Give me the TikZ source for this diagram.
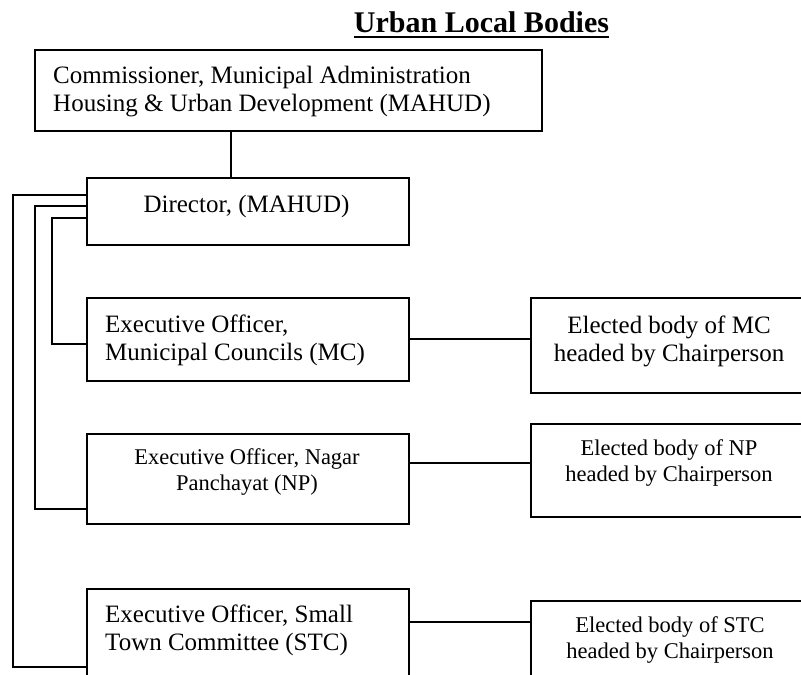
\documentclass[tikz,border=0pt]{standalone}
\usepackage{fontspec}
\setmainfont{Liberation Serif}
\begin{document}
\begin{tikzpicture}[x=1pt,y=-1pt,
  box/.style={draw,line width=1.8pt,rectangle,inner sep=0pt,anchor=north west},
  big/.style={font=\fontsize{25}{28}\selectfont,inner sep=0pt},
  small/.style={font=\fontsize{22.5}{26}\selectfont,inner sep=0pt},
  conn/.style={line width=1.8pt}]
\useasboundingbox (0,0) rectangle (801,675);
\clip (0,0) rectangle (801,675);
% title
\node[inner sep=0pt,anchor=base,font=\fontsize{30}{34}\selectfont\bfseries] (title) at (481.5,32) {Urban Local Bodies};
\draw[line width=2.2pt] ([yshift=-5pt]title.base west) -- ([yshift=-5pt]title.base east);
% boxes
\node[box,minimum width=507pt,minimum height=81pt] (com) at (34,49) {};
\node[box,minimum width=322pt,minimum height=67pt] (dir) at (86,177) {};
\node[box,minimum width=322pt,minimum height=83pt] (mc) at (86,297) {};
\node[box,minimum width=322pt,minimum height=90pt] (np) at (86,433) {};
\node[box,minimum width=322pt,minimum height=112pt] (stc) at (86,588) {};
\node[box,minimum width=274pt,minimum height=95pt] (emc) at (530,297) {};
\node[box,minimum width=274pt,minimum height=93pt] (enp) at (530,423) {};
\node[box,minimum width=274pt,minimum height=120pt] (estc) at (530,600) {};
% texts (base anchor = baseline of the last line)
\node[big,anchor=base west,align=left] (comt) at (53,111) {Commissioner, Municipal Administration\\Housing \& Urban Development (MAHUD)};
\node[big,anchor=base] (dirt) at (246.5,212) {Director, (MAHUD)};
\node[big,anchor=base west,align=left] (mct) at (105,360) {Executive Officer,\\Municipal Councils (MC)};
\node[small,anchor=base,align=center] (npt) at (247,490) {Executive Officer, Nagar\\Panchayat (NP)};
\node[big,anchor=base west,align=left] (stct) at (105,650) {Executive Officer, Small\\Town Committee (STC)};
\node[big,anchor=base,align=center] (emct) at (669,361) {Elected body of MC\\headed by Chairperson};
\node[small,anchor=base,align=center] (enpt) at (669,481) {Elected body of NP\\headed by Chairperson};
\node[small,anchor=base,align=center] (estct) at (670,658) {Elected body of STC\\headed by Chairperson};
% connectors
\coordinate (j) at (231,0);
\draw[conn] (com.south -| j) -- (dir.north -| j);
\coordinate (a1) at (13,195); \coordinate (a2) at (13,667);
\coordinate (b1) at (35,206); \coordinate (b2) at (35,509);
\coordinate (c1) at (52,218); \coordinate (c2) at (52,344);
\draw[conn] (dir.west |- a1) -- (a1) -- (a2) -- (stc.west |- a2);
\draw[conn] (dir.west |- b1) -- (b1) -- (b2) -- (np.west |- b2);
\draw[conn] (dir.west |- c1) -- (c1) -- (c2) -- (mc.west |- c2);
\coordinate (hm) at (0,339); \coordinate (hn) at (0,463); \coordinate (hs) at (0,622);
\draw[conn] (mc.east |- hm) -- (emc.west |- hm);
\draw[conn] (np.east |- hn) -- (enp.west |- hn);
\draw[conn] (stc.east |- hs) -- (estc.west |- hs);
\end{tikzpicture}
\end{document}
